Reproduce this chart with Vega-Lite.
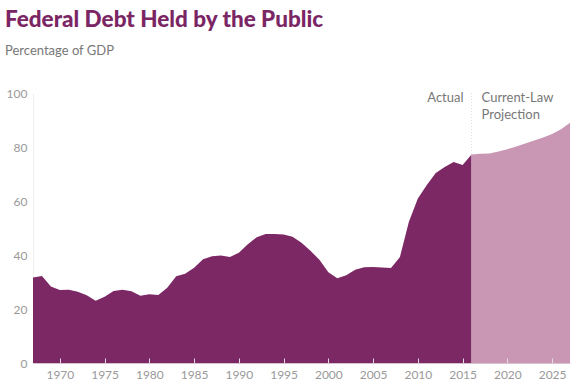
{
  "$schema": "https://vega.github.io/schema/vega-lite/v6.json",
  "autosize": {"type": "none"},
  "width": 537,
  "height": 270,
  "padding": {"left": 33, "top": 93, "right": 5, "bottom": 25},
  "background": "white",
  "config": {"view": {"stroke": null}, "font": "Lato"},
  "title": {
    "text": "Federal Debt Held by the Public",
    "subtitle": "Percentage of GDP",
    "anchor": "start",
    "frame": "group",
    "dx": -28,
    "offset": 29,
    "font": "Lato",
    "fontSize": 22.5,
    "fontWeight": 900,
    "color": "#7b2664",
    "subtitleFont": "Lato",
    "subtitleFontSize": 13,
    "subtitleColor": "#777777",
    "subtitlePadding": 14
  },
  "datasets": {
    "debt": [
      {"year": 1967, "value": 31.7, "period": "Actual"},
      {"year": 1968, "value": 32.2, "period": "Actual"},
      {"year": 1969, "value": 28.3, "period": "Actual"},
      {"year": 1970, "value": 27.0, "period": "Actual"},
      {"year": 1971, "value": 27.1, "period": "Actual"},
      {"year": 1972, "value": 26.4, "period": "Actual"},
      {"year": 1973, "value": 25.1, "period": "Actual"},
      {"year": 1974, "value": 23.1, "period": "Actual"},
      {"year": 1975, "value": 24.5, "period": "Actual"},
      {"year": 1976, "value": 26.7, "period": "Actual"},
      {"year": 1977, "value": 27.1, "period": "Actual"},
      {"year": 1978, "value": 26.6, "period": "Actual"},
      {"year": 1979, "value": 24.9, "period": "Actual"},
      {"year": 1980, "value": 25.5, "period": "Actual"},
      {"year": 1981, "value": 25.2, "period": "Actual"},
      {"year": 1982, "value": 27.9, "period": "Actual"},
      {"year": 1983, "value": 32.1, "period": "Actual"},
      {"year": 1984, "value": 33.1, "period": "Actual"},
      {"year": 1985, "value": 35.3, "period": "Actual"},
      {"year": 1986, "value": 38.4, "period": "Actual"},
      {"year": 1987, "value": 39.5, "period": "Actual"},
      {"year": 1988, "value": 39.8, "period": "Actual"},
      {"year": 1989, "value": 39.3, "period": "Actual"},
      {"year": 1990, "value": 40.8, "period": "Actual"},
      {"year": 1991, "value": 44.0, "period": "Actual"},
      {"year": 1992, "value": 46.6, "period": "Actual"},
      {"year": 1993, "value": 47.8, "period": "Actual"},
      {"year": 1994, "value": 47.8, "period": "Actual"},
      {"year": 1995, "value": 47.6, "period": "Actual"},
      {"year": 1996, "value": 46.8, "period": "Actual"},
      {"year": 1997, "value": 44.5, "period": "Actual"},
      {"year": 1998, "value": 41.6, "period": "Actual"},
      {"year": 1999, "value": 38.2, "period": "Actual"},
      {"year": 2000, "value": 33.6, "period": "Actual"},
      {"year": 2001, "value": 31.4, "period": "Actual"},
      {"year": 2002, "value": 32.5, "period": "Actual"},
      {"year": 2003, "value": 34.5, "period": "Actual"},
      {"year": 2004, "value": 35.5, "period": "Actual"},
      {"year": 2005, "value": 35.6, "period": "Actual"},
      {"year": 2006, "value": 35.4, "period": "Actual"},
      {"year": 2007, "value": 35.2, "period": "Actual"},
      {"year": 2008, "value": 39.3, "period": "Actual"},
      {"year": 2009, "value": 52.3, "period": "Actual"},
      {"year": 2010, "value": 60.9, "period": "Actual"},
      {"year": 2011, "value": 65.9, "period": "Actual"},
      {"year": 2012, "value": 70.4, "period": "Actual"},
      {"year": 2013, "value": 72.6, "period": "Actual"},
      {"year": 2014, "value": 74.4, "period": "Actual"},
      {"year": 2015, "value": 73.3, "period": "Actual"},
      {"year": 2016, "value": 77.2, "period": "Actual"},
      {"year": 2016, "value": 77.2, "period": "Projection"},
      {"year": 2017, "value": 77.5, "period": "Projection"},
      {"year": 2018, "value": 77.6, "period": "Projection"},
      {"year": 2019, "value": 78.3, "period": "Projection"},
      {"year": 2020, "value": 79.2, "period": "Projection"},
      {"year": 2021, "value": 80.2, "period": "Projection"},
      {"year": 2022, "value": 81.3, "period": "Projection"},
      {"year": 2023, "value": 82.4, "period": "Projection"},
      {"year": 2024, "value": 83.5, "period": "Projection"},
      {"year": 2025, "value": 84.8, "period": "Projection"},
      {"year": 2026, "value": 86.6, "period": "Projection"},
      {"year": 2027, "value": 89.0, "period": "Projection"}
    ]
  },
  "layer": [
    {
      "data": {"name": "debt"},
      "mark": {"type": "area", "interpolate": "linear", "line": false},
      "encoding": {
        "x": {
          "field": "year",
          "type": "quantitative",
          "scale": {"domain": [1967, 2027], "nice": false, "zero": false},
          "axis": {
            "title": null,
            "values": [1970, 1975, 1980, 1985, 1990, 1995, 2000, 2005, 2010, 2015, 2020, 2025],
            "format": "d",
            "grid": false,
            "domainColor": "#d9c2d0",
            "domainWidth": 1,
            "tickColor": "#e6dbe2",
            "tickSize": -5,
            "labelPadding": 11,
            "labelColor": "#999999",
            "labelFontSize": 12,
            "labelFont": "Lato",
            "zindex": 1
          }
        },
        "y": {
          "field": "value",
          "type": "quantitative",
          "stack": null,
          "scale": {"domain": [0, 100], "nice": false},
          "axis": {
            "title": null,
            "values": [0, 20, 40, 60, 80, 100],
            "grid": false,
            "ticks": false,
            "domainColor": "#eeeeee",
            "labelPadding": 6,
            "labelColor": "#999999",
            "labelFontSize": 12,
            "labelFont": "Lato"
          }
        },
        "color": {
          "field": "period",
          "type": "nominal",
          "scale": {"domain": ["Actual", "Projection"], "range": ["#7c2865", "#c997b3"]},
          "legend": null
        },
        "fillOpacity": {"value": 1}
      }
    },
    {
      "data": {"values": [{}]},
      "mark": {"type": "rule", "color": "#dddddd", "strokeDash": [1, 2], "strokeWidth": 1},
      "encoding": {
        "x": {"datum": 2016},
        "y": {"datum": 100},
        "y2": {"datum": 77.4}
      }
    },
    {
      "data": {"values": [{}]},
      "mark": {"type": "text", "align": "right", "baseline": "top", "dx": -8, "dy": -1, "fontSize": 13, "color": "#777777", "font": "Lato"},
      "encoding": {
        "x": {"datum": 2016},
        "y": {"datum": 100},
        "text": {"value": "Actual"}
      }
    },
    {
      "data": {"values": [{}]},
      "mark": {"type": "text", "align": "left", "baseline": "top", "dx": 10, "dy": -1, "fontSize": 13, "lineHeight": 17, "color": "#777777", "font": "Lato"},
      "encoding": {
        "x": {"datum": 2016},
        "y": {"datum": 100},
        "text": {"value": ["Current-Law", "Projection"]}
      }
    }
  ]
}
